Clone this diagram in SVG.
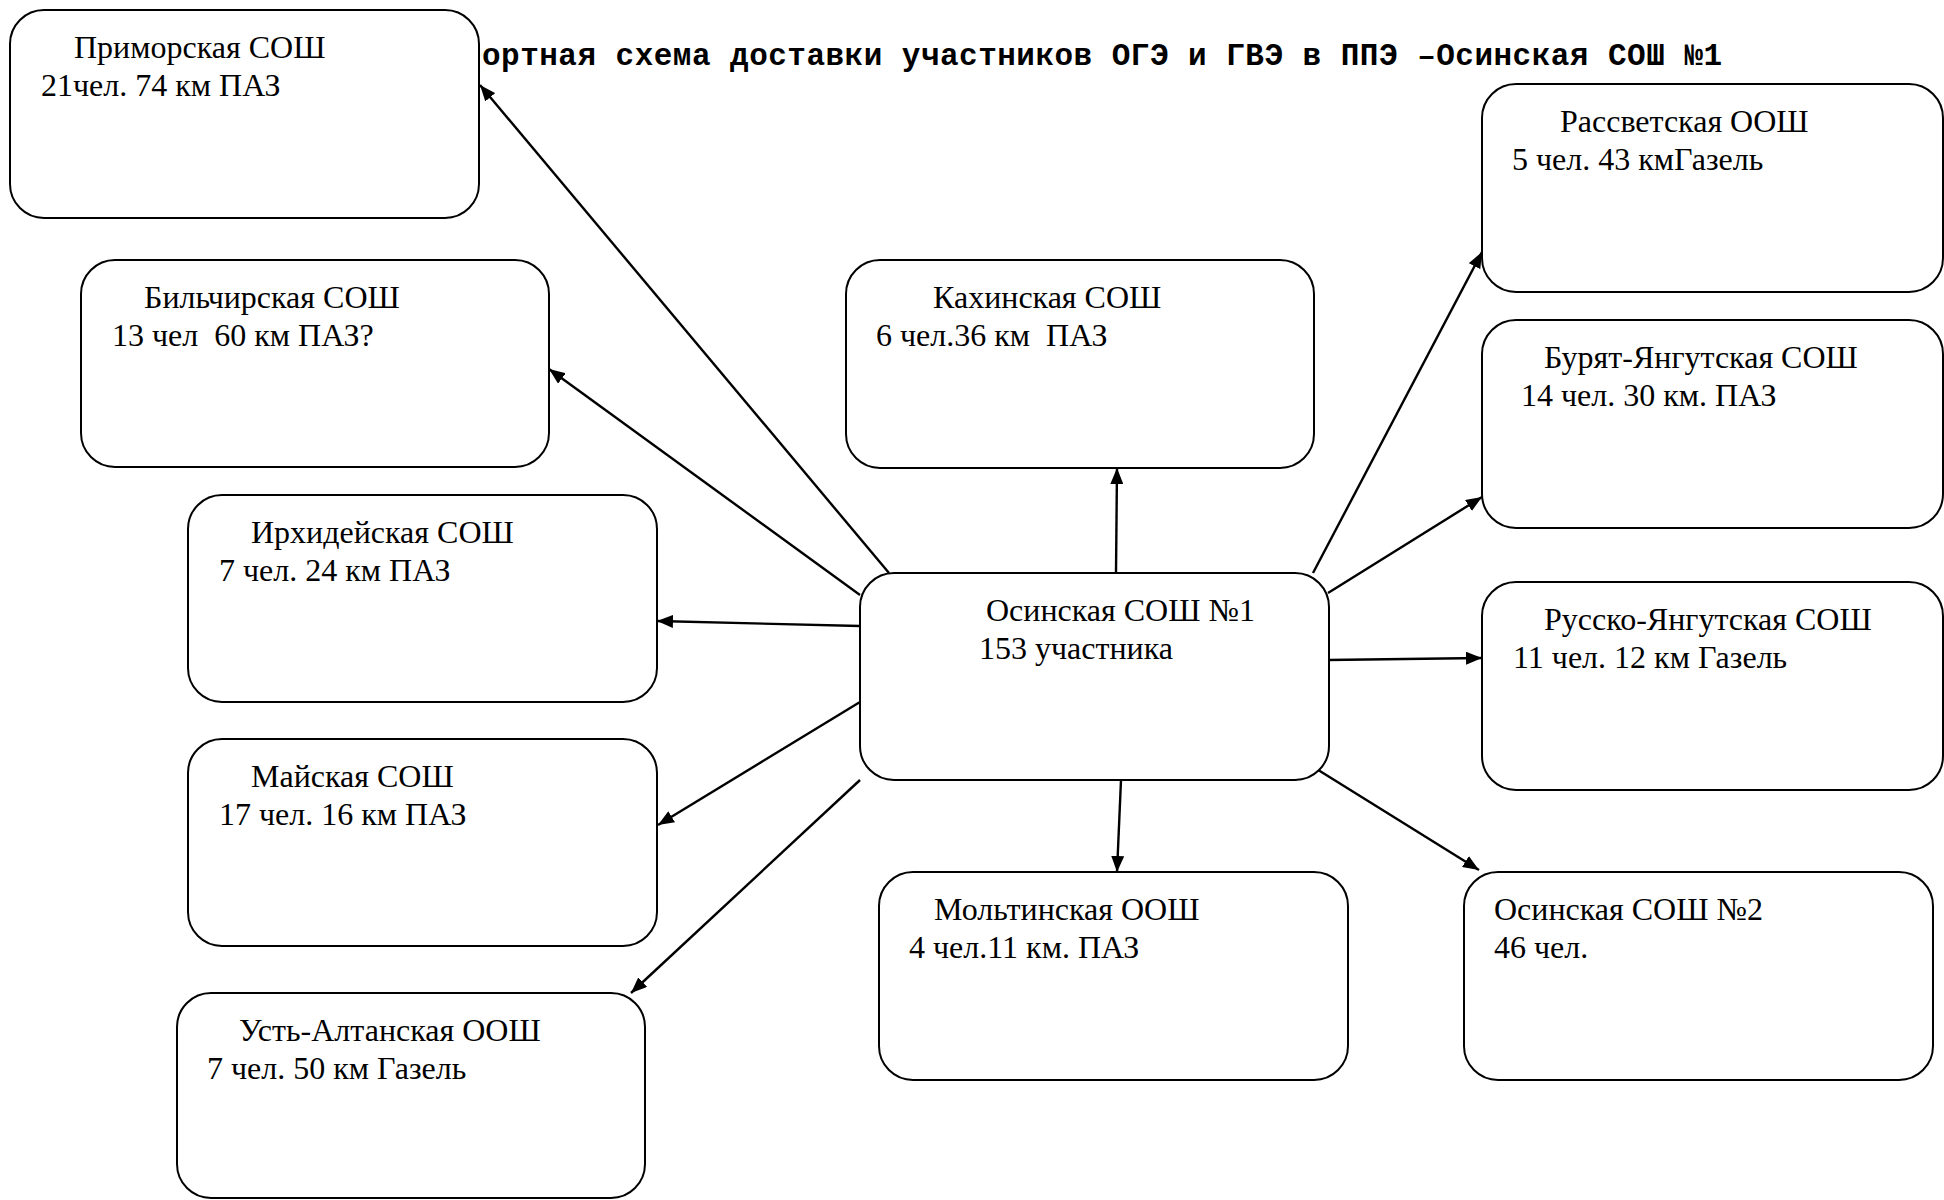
<svg xmlns="http://www.w3.org/2000/svg" width="1944" height="1200" viewBox="0 0 1944 1200">
<defs>
<style>
.box{fill:#fff;stroke:#000;stroke-width:2}
.t{font-family:"Liberation Serif","Times New Roman",serif;font-size:32px;fill:#000;white-space:pre}
.title{font-family:"Liberation Mono","Courier New",monospace;font-size:31px;font-weight:bold;fill:#000}
.ln{stroke:#000;stroke-width:2.4;fill:none;marker-end:url(#ah)}
</style>
<marker id="ah" markerUnits="userSpaceOnUse" markerWidth="16" markerHeight="13" refX="16" refY="6.5" orient="auto">
<path d="M0,0 L16,6.5 L0,13 z" fill="#000"/>
</marker>
</defs>
<rect width="1944" height="1200" fill="#fff"/>
<text class="title" x="482" y="65" textLength="1240" lengthAdjust="spacing">ортная схема доставки участников ОГЭ и ГВЭ в ППЭ –Осинская СОШ №1</text>
<g id="connectors">
<line class="ln" x1="889" y1="573" x2="480" y2="85"/>
<line class="ln" x1="860" y1="595" x2="549" y2="369"/>
<line class="ln" x1="860" y1="626" x2="657" y2="621"/>
<line class="ln" x1="860" y1="702" x2="658" y2="825"/>
<line class="ln" x1="860" y1="780" x2="631" y2="993"/>
<line class="ln" x1="1116" y1="573" x2="1117" y2="468"/>
<line class="ln" x1="1121" y1="780" x2="1117" y2="872"/>
<line class="ln" x1="1313" y1="573" x2="1482" y2="252"/>
<line class="ln" x1="1328" y1="593" x2="1482" y2="497"/>
<line class="ln" x1="1328" y1="660" x2="1482" y2="658"/>
<line class="ln" x1="1315" y1="768" x2="1479" y2="870"/>
</g>
<g id="primorskaya">
<rect class="box" x="10" y="10" width="469" height="208" rx="34"/>
<text class="t" x="74" y="58">Приморская СОШ</text>
<text class="t" x="41" y="96">21чел. 74 км ПАЗ</text>
</g>
<g id="bilchirskaya">
<rect class="box" x="81" y="260" width="468" height="207" rx="34"/>
<text class="t" x="144" y="308">Бильчирская СОШ</text>
<text class="t" x="112" y="346">13 чел  60 км ПАЗ?</text>
</g>
<g id="irkhideyskaya">
<rect class="box" x="188" y="495" width="469" height="207" rx="34"/>
<text class="t" x="251" y="543">Ирхидейская СОШ</text>
<text class="t" x="219" y="581">7 чел. 24 км ПАЗ</text>
</g>
<g id="mayskaya">
<rect class="box" x="188" y="739" width="469" height="207" rx="34"/>
<text class="t" x="251" y="787">Майская СОШ</text>
<text class="t" x="219" y="825">17 чел. 16 км ПАЗ</text>
</g>
<g id="ust-altanskaya">
<rect class="box" x="177" y="993" width="468" height="205" rx="34"/>
<text class="t" x="239" y="1041">Усть-Алтанская ООШ</text>
<text class="t" x="207" y="1079">7 чел. 50 км Газель</text>
</g>
<g id="kakhinskaya">
<rect class="box" x="846" y="260" width="468" height="208" rx="34"/>
<text class="t" x="933" y="308">Кахинская СОШ</text>
<text class="t" x="876" y="346">6 чел.36 км  ПАЗ</text>
</g>
<g id="osinskaya1">
<rect class="box" x="860" y="573" width="469" height="207" rx="34"/>
<text class="t" x="986" y="621">Осинская СОШ №1</text>
<text class="t" x="979" y="659">153 участника</text>
</g>
<g id="moltinskaya">
<rect class="box" x="879" y="872" width="469" height="208" rx="34"/>
<text class="t" x="934" y="920">Мольтинская ООШ</text>
<text class="t" x="909" y="958">4 чел.11 км. ПАЗ</text>
</g>
<g id="rassvetskaya">
<rect class="box" x="1482" y="84" width="461" height="208" rx="34"/>
<text class="t" x="1560" y="132">Рассветская ООШ</text>
<text class="t" x="1512" y="170">5 чел. 43 кмГазель</text>
</g>
<g id="buryat-yangutskaya">
<rect class="box" x="1482" y="320" width="461" height="208" rx="34"/>
<text class="t" x="1544" y="368">Бурят-Янгутская СОШ</text>
<text class="t" x="1521" y="406">14 чел. 30 км. ПАЗ</text>
</g>
<g id="russko-yangutskaya">
<rect class="box" x="1482" y="582" width="461" height="208" rx="34"/>
<text class="t" x="1544" y="630">Русско-Янгутская СОШ</text>
<text class="t" x="1513" y="668">11 чел. 12 км Газель</text>
</g>
<g id="osinskaya2">
<rect class="box" x="1464" y="872" width="469" height="208" rx="34"/>
<text class="t" x="1494" y="920">Осинская СОШ №2</text>
<text class="t" x="1494" y="958">46 чел.</text>
</g>
</svg>
